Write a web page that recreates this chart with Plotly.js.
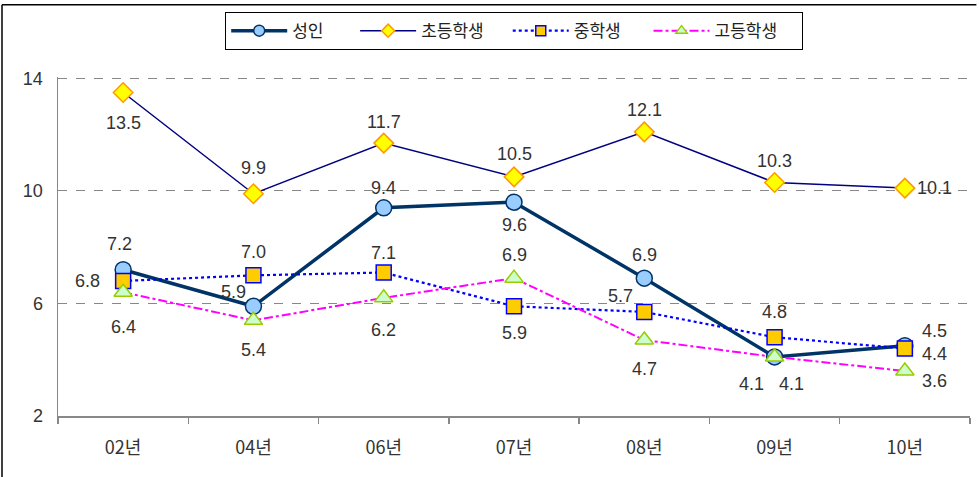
<!DOCTYPE html>
<html>
<head>
<meta charset="utf-8">
<script src="https://cdn.plot.ly/plotly-3.0.1.min.js"></script>
<style>
html,body{margin:0;padding:0;background:#fff;}
#chart{width:979px;height:477px;}
</style>
</head>
<body>
<div id="chart"></div>
<script>
const categories = ['02년','04년','06년','07년','08년','09년','10년'];
const seriesNames = ['성인','초등학생','중학생','고등학생'];
const adult = [7.2, 5.9, 9.4, 9.6, 6.9, 4.1, 4.5];
const elementary = [13.5, 9.9, 11.7, 10.5, 12.1, 10.3, 10.1];
const middle = [6.8, 7.0, 7.1, 5.9, 5.7, 4.8, 4.4];
const high = [6.4, 5.4, 6.2, 6.9, 4.7, 4.1, 3.6];
const yTicks = [2, 6, 10, 14];

// label offsets (px) per series per point: [xshift, yshift]
const offAdult = [[-4,26],[-20,14],[0,20],[0,-23],[0,23],[-23,-27],[30,15]];
const offElem = [[0,-31],[0,26],[0,21],[0,23],[0,22],[0,22],[30,0]];
const offMiddle = [[-36,0],[0,23],[0,20],[0,-27],[-24,16],[0,25],[30,-6]];
const offHigh = [[0,-35],[0,-30],[0,-32],[0,23],[0,-29],[17,-27],[30,-10]];
const legendPad = [7, 5, 6, 5];

const NUMFONT = 'Liberation Sans, Arial, Noto Sans CJK KR, sans-serif';
const KFONT = 'Noto Sans CJK KR, Liberation Sans, sans-serif';

const styles = [
  {line:{color:'#003366', width:3.5}, marker:{symbol:'circle', color:'#99ccff', line:{color:'#003366', width:1.5}}, size:16, lsize:11},
  {line:{color:'#000080', width:1.5}, marker:{symbol:'diamond', color:'#ffff00', line:{color:'#ff9900', width:1.5}}, size:15, lsize:10},
  {line:{color:'#0000ff', width:2.2, dash:'dot'}, marker:{symbol:'square', color:'#ffcc00', line:{color:'#0000ff', width:1.5}}, size:15, lsize:10},
  {line:{color:'#ff00ff', width:2, dash:'dashdot'}, marker:{symbol:'triangle-up', color:'#ccffcc', line:{color:'#99cc00', width:1.5}}, size:16, lsize:10}
];
const dataSets = [adult, elementary, middle, high];

const traces = [];
dataSets.forEach((vals, k)=>{
  const s = styles[k];
  traces.push({name: seriesNames[k], x: categories, y: vals, type:'scatter', mode:'lines+markers',
    showlegend:false, line: s.line,
    marker: Object.assign({}, s.marker, {size: s.size})});
});
// legend entries (smaller legend symbols)
dataSets.forEach((vals, k)=>{
  const s = styles[k];
  traces.push({name: seriesNames[k] + '\u00a0'.repeat(legendPad[k]), x:[null], y:[null], type:'scatter', mode:'lines+markers',
    showlegend:true, line: s.line, hoverinfo:'skip',
    marker: Object.assign({}, s.marker, {size: s.lsize})});
});

const annotations = [];
function addLabels(vals, offs){
  vals.forEach((v,i)=>{
    annotations.push({x: categories[i], y: v, xref:'x', yref:'y', text: v.toFixed(1),
      showarrow:false, xshift: offs[i][0], yshift: offs[i][1],
      font:{family: NUMFONT, size:18, color:'#333333'}});
  });
}
addLabels(adult, offAdult);
addLabels(elementary, offElem);
addLabels(middle, offMiddle);
addLabels(high, offHigh);

const layout = {
  width: 979, height: 477,
  margin: {l:58, r:9, t:77, b:61},
  paper_bgcolor:'#ffffff', plot_bgcolor:'#ffffff',
  showlegend: true,
  legend: {orientation:'h', x:0.5, xanchor:'center', y:1.192, yanchor:'top',
    bordercolor:'#000000', borderwidth:1.2, bgcolor:'#ffffff',
    font:{family: KFONT, size:17, color:'#222222'}, itemwidth:56, traceorder:'normal',
    tracegroupgap:0},
  xaxis: {type:'category', range:[-0.5, 6.5], showgrid:false, zeroline:false,
    showline:true, linecolor:'#888888', linewidth:1.5,
    ticks:'outside', tickson:'boundaries', ticklen:6, tickcolor:'#888888', tickwidth:1.5,
    ticklabelstandoff: 15,
    tickfont:{family: KFONT, size:18, color:'#333333'}, fixedrange:true},
  yaxis: {range:[2,14.05], tickvals: yTicks, ticktext: yTicks.map(String),
    showgrid:true, gridcolor:'#888888', griddash:'dash', gridwidth:1,
    zeroline:false, showline:true, linecolor:'#888888', linewidth:1.5,
    ticks:'', ticklabelstandoff: 10,
    tickfont:{family: NUMFONT, size:18, color:'#333333'}, fixedrange:true},
  annotations: annotations,
  shapes: [
    {type:'line', xref:'paper', yref:'paper', x0:-0.0614, x1:1.007, y0:1.213, y1:1.213,
     line:{color:'#000000', width:1.5}},
    {type:'line', xref:'paper', yref:'paper', x0:-0.0614, x1:-0.0614, y0:1.213, y1:-0.2,
     line:{color:'#000000', width:1.5}}
  ]
};

Plotly.newPlot('chart', traces, layout, {displayModeBar:false, staticPlot:true});
</script>
</body>
</html>
